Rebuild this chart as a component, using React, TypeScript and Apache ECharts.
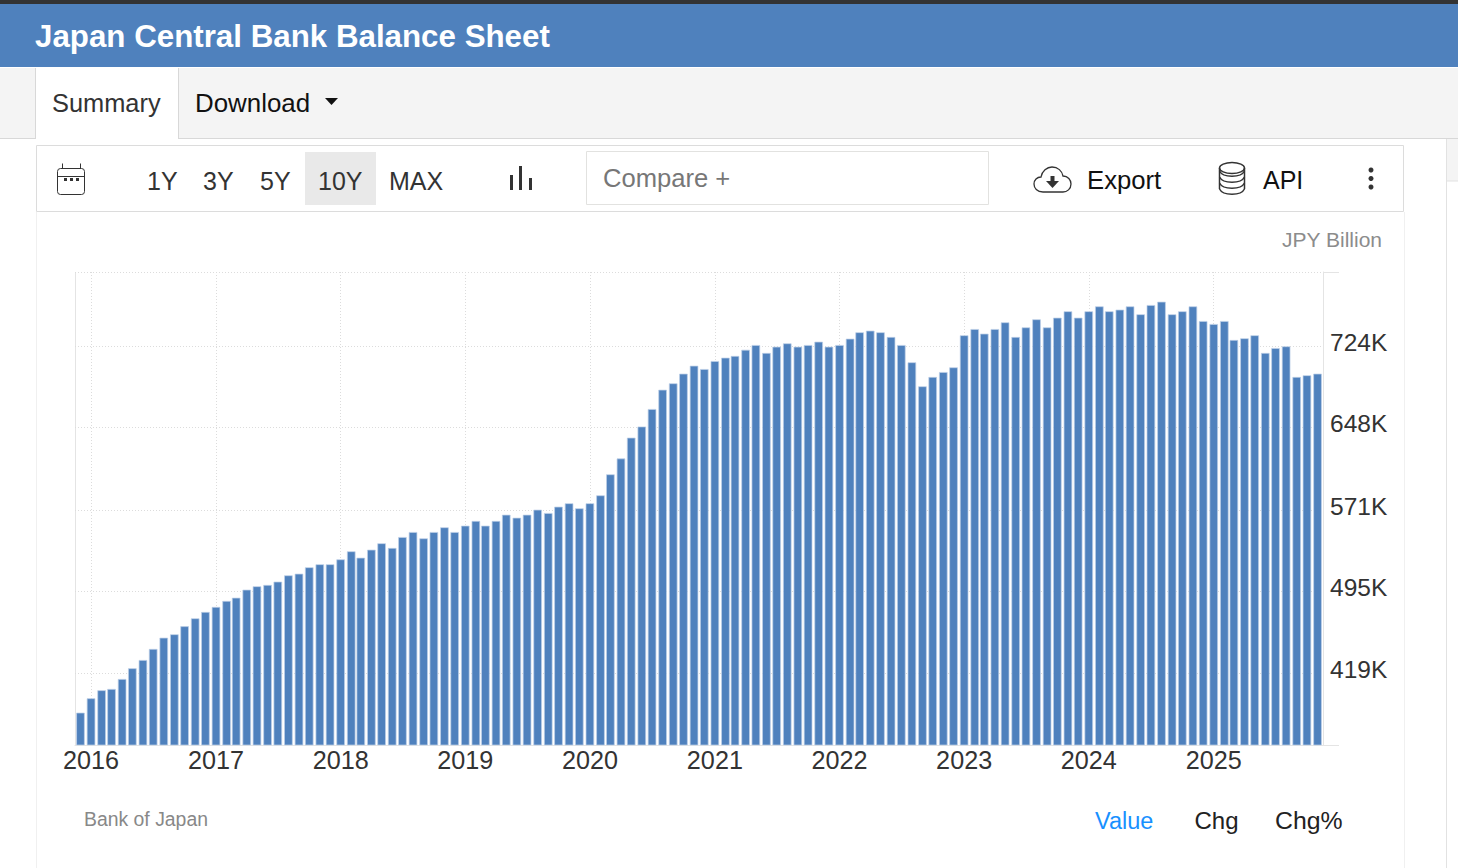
import React, { useEffect, useRef } from "react";
import * as echarts from "echarts";

const months = [
  "2015-12-01",
  "2016-01-01","2016-02-01","2016-03-01","2016-04-01","2016-05-01","2016-06-01","2016-07-01","2016-08-01","2016-09-01","2016-10-01","2016-11-01","2016-12-01",
  "2017-01-01","2017-02-01","2017-03-01","2017-04-01","2017-05-01","2017-06-01","2017-07-01","2017-08-01","2017-09-01","2017-10-01","2017-11-01","2017-12-01",
  "2018-01-01","2018-02-01","2018-03-01","2018-04-01","2018-05-01","2018-06-01","2018-07-01","2018-08-01","2018-09-01","2018-10-01","2018-11-01","2018-12-01",
  "2019-01-01","2019-02-01","2019-03-01","2019-04-01","2019-05-01","2019-06-01","2019-07-01","2019-08-01","2019-09-01","2019-10-01","2019-11-01","2019-12-01",
  "2020-01-01","2020-02-01","2020-03-01","2020-04-01","2020-05-01","2020-06-01","2020-07-01","2020-08-01","2020-09-01","2020-10-01","2020-11-01","2020-12-01",
  "2021-01-01","2021-02-01","2021-03-01","2021-04-01","2021-05-01","2021-06-01","2021-07-01","2021-08-01","2021-09-01","2021-10-01","2021-11-01","2021-12-01",
  "2022-01-01","2022-02-01","2022-03-01","2022-04-01","2022-05-01","2022-06-01","2022-07-01","2022-08-01","2022-09-01","2022-10-01","2022-11-01","2022-12-01",
  "2023-01-01","2023-02-01","2023-03-01","2023-04-01","2023-05-01","2023-06-01","2023-07-01","2023-08-01","2023-09-01","2023-10-01","2023-11-01","2023-12-01",
  "2024-01-01","2024-02-01","2024-03-01","2024-04-01","2024-05-01","2024-06-01","2024-07-01","2024-08-01","2024-09-01","2024-10-01","2024-11-01","2024-12-01",
  "2025-01-01","2025-02-01","2025-03-01","2025-04-01","2025-05-01","2025-06-01","2025-07-01","2025-08-01","2025-09-01","2025-10-01","2025-11-01",
];

const balance = [
  382.0,
  395.4,402.9,404.1,413.4,423.4,431.1,441.4,451.9,455.1,462.6,470.0,475.9,
  480.6,486.2,489.2,496.7,499.9,501.1,504.2,510.1,511.6,517.6,520.4,520.4,
  525.0,532.5,526.5,534.0,540.0,535.6,545.8,550.5,544.6,550.5,554.9,550.5,
  556.4,560.8,556.4,560.8,566.6,563.8,566.6,571.3,568.2,574.1,577.3,572.6,
  577.3,584.7,604.3,619.1,638.5,648.9,665.2,683.2,689.2,698.2,705.6,702.5,
  710.0,713.1,714.7,720.5,724.9,717.5,723.3,726.5,723.3,724.9,728.0,723.3,
  724.9,730.8,736.8,738.3,736.8,732.4,724.9,708.8,686.4,695.1,699.7,704.1,
  734.0,739.8,735.5,739.8,746.1,732.4,741.4,748.9,741.4,750.4,756.4,750.4,
  756.4,761.0,756.4,757.9,761.0,753.6,762.2,765.3,753.6,756.4,761.0,747.3,
  744.5,747.3,729.6,731.2,734.0,717.5,722.1,723.7,695.1,696.7,698.2,
];

const yearTicks = ["2016-01-01","2017-01-01","2018-01-01","2019-01-01","2020-01-01","2021-01-01","2022-01-01","2023-01-01","2024-01-01","2025-01-01"];
const valueTicks = [419, 495, 571, 648, 724];
const periodButtons = ["1Y", "3Y", "5Y", "10Y", "MAX"];
const FONT = '"Liberation Sans", Arial, sans-serif';
const BLUE = "#4f81bd";

const CLOUD =
  "M10 26 C4 26 1 22 1 18 C1 14 4 11 8 11 C9 5 14 1 19 1 C25 1 29 5 30 10 C35 10 38 14 38 18 C38 23 34 26 30 26 Z";
echarts.graphic.registerShape("cloudIcon", echarts.graphic.extendPath(CLOUD as any, {}) as any);

function txt(text: string, x: number, y: number, fontSize: number, fill: string, extra: any = {}) {
  return {
    type: "text",
    silent: true,
    x,
    y,
    style: { text, x: 0, y: 0, fontSize, fill, fontFamily: FONT, textAlign: "left", textVerticalAlign: "middle", verticalAlign: "middle", ...extra },
  };
}
function box(x: number, y: number, width: number, height: number, fill: string, stroke?: string, r = 0, z = 0) {
  return {
    type: "rect",
    silent: true,
    z,
    shape: { x, y, width, height, r },
    style: { fill, stroke: stroke || "none", lineWidth: stroke ? 1 : 0 },
  };
}
function seg(x1: number, y1: number, x2: number, y2: number, stroke: string, lineWidth = 1, dash?: number[]) {
  return {
    type: "line",
    silent: true,
    shape: { x1, y1, x2, y2 },
    style: { stroke, lineWidth, lineDash: dash || "solid" },
  };
}

function chrome(): any[] {
  const periodX = [147, 203, 260, 318, 389];
  const icon = "#333333";
  return [
    box(0, 0, 1458, 4, "#333333"),
    box(0, 4, 1458, 63, BLUE),
    box(0, 68, 1458, 70, "#f4f4f4"),
    seg(0, 138.5, 1458, 138.5, "#d8d8d8"),
    box(36, 68, 142, 71, "#ffffff"),
    seg(35.5, 68, 35.5, 139, "#d8d8d8"),
    seg(178.5, 68, 178.5, 139, "#d8d8d8"),
    txt("Japan Central Bank Balance Sheet", 35, 36, 31.3, "#ffffff", { fontWeight: "bold" }),
    txt("Summary", 52, 103, 25.4, "#333333"),
    txt("Download", 195, 103, 25.9, "#111111"),
    { type: "polygon", silent: true, shape: { points: [[325, 98], [338, 98], [331.5, 105]] }, style: { fill: "#111111" } },

    seg(36.5, 212, 36.5, 868, "#f0f0f0"),
    seg(1404.5, 212, 1404.5, 868, "#f0f0f0"),
    seg(1446.5, 139, 1446.5, 868, "#e2e2e2"),
    box(1447, 139, 11, 42, "#f4f4f4"),
    seg(1447, 181, 1458, 181, "#e2e2e2"),

    box(36.5, 145.5, 1367, 66, "#ffffff", "#dcdcdc"),
    box(305, 152, 71, 53, "#e9e9e9"),
    ...periodButtons.map((p, i) => txt(p, periodX[i], 181, 25, "#333333")),

    box(57.5, 168.5, 27, 26, "none", icon, 3),
    seg(58, 176.5, 84, 176.5, icon),
    seg(62.5, 163.5, 62.5, 168.5, icon),
    seg(80.5, 163.5, 80.5, 168.5, icon),
    box(64, 178, 3, 3, icon),
    box(70, 178, 3, 3, icon),
    box(76, 178, 3, 3, icon),

    box(510, 175, 3, 15, icon),
    box(519, 166, 3, 24, icon),
    box(529, 178, 3, 12, icon),

    box(586.5, 151.5, 402, 53, "#ffffff", "#e2e2e0"),
    txt("Compare +", 603, 178, 25.6, "#777777"),

    { type: "cloudIcon", silent: true, x: 1033, y: 166, style: { fill: "none", stroke: icon, lineWidth: 1.3 } },
    box(1050.5, 176, 4, 6, icon),
    { type: "polygon", silent: true, shape: { points: [[1046, 181], [1059, 181], [1052.5, 188]] }, style: { fill: icon } },
    txt("Export", 1087, 180, 25.7, "#111111"),

    { type: "ellipse", silent: true, shape: { cx: 1232, cy: 168, rx: 12.5, ry: 5.5 }, style: { fill: "none", stroke: icon, lineWidth: 1.5 } },
    seg(1219.5, 168, 1219.5, 189, icon, 1.5),
    seg(1244.5, 168, 1244.5, 189, icon, 1.5),
    { type: "bezierCurve", silent: true, shape: { x1: 1219.5, y1: 171, x2: 1244.5, y2: 171, cpx1: 1223, cpy1: 178, cpx2: 1241, cpy2: 178 }, style: { fill: "none", stroke: icon, lineWidth: 1.5 } },
    { type: "bezierCurve", silent: true, shape: { x1: 1219.5, y1: 177, x2: 1244.5, y2: 177, cpx1: 1223, cpy1: 184, cpx2: 1241, cpy2: 184 }, style: { fill: "none", stroke: icon, lineWidth: 1.5 } },
    { type: "bezierCurve", silent: true, shape: { x1: 1219.5, y1: 183, x2: 1244.5, y2: 183, cpx1: 1223, cpy1: 190, cpx2: 1241, cpy2: 190 }, style: { fill: "none", stroke: icon, lineWidth: 1.5 } },
    { type: "bezierCurve", silent: true, shape: { x1: 1219.5, y1: 189, x2: 1244.5, y2: 189, cpx1: 1223, cpy1: 196, cpx2: 1241, cpy2: 196 }, style: { fill: "none", stroke: icon, lineWidth: 1.5 } },
    txt("API", 1263, 180, 25, "#111111"),

    { type: "circle", silent: true, shape: { cx: 1371, cy: 170, r: 2.5 }, style: { fill: icon } },
    { type: "circle", silent: true, shape: { cx: 1371, cy: 178.5, r: 2.5 }, style: { fill: icon } },
    { type: "circle", silent: true, shape: { cx: 1371, cy: 187, r: 2.5 }, style: { fill: icon } },

    txt("JPY Billion", 1382, 239.5, 21, "#8c8c8c", { textAlign: "right" }),
    txt("Bank of Japan", 84, 819, 19.4, "#888888"),
    txt("Value", 1095, 820.5, 23.5, "#1890ff"),
    txt("Chg", 1194.5, 820.5, 24, "#222222"),
    txt("Chg%", 1275, 820.5, 24.8, "#222222"),

    seg(75.5, 272, 75.5, 745, "#e4e4e4", 1),
    seg(75, 272.5, 1323, 272.5, "#dcdcdc", 1, [1, 2]),
    seg(1323, 272.5, 1339, 272.5, "#e4e4e4", 1),
    seg(1323, 745.5, 1339, 745.5, "#e4e4e4", 1),
  ];
}

const ms = (d: string) => Date.parse(d + "T00:00:00Z");

export default function App() {
  const ref = useRef<HTMLDivElement>(null);
  useEffect(() => {
    if (!ref.current) return;
    const chart = echarts.init(ref.current, undefined, { renderer: "svg" });
    const xTicks = yearTicks.map(ms);
    chart.setOption({
      animation: false,
      backgroundColor: "#ffffff",
      textStyle: { fontFamily: FONT },
      grid: { left: 75, right: 135, top: 272, bottom: 123, containLabel: false },
      xAxis: {
        type: "value",
        min: ms("2015-11-15"),
        max: ms("2025-11-17"),
        axisLine: { show: true, onZero: false, lineStyle: { color: "#e4e4e4", width: 1 } },
        axisTick: { show: false, customValues: xTicks },
        axisLabel: {
          customValues: xTicks,
          formatter: (v: number) => String(new Date(v).getUTCFullYear()),
          fontSize: 25.2,
          color: "#333333",
          fontFamily: FONT,
          margin: 2,
          hideOverlap: false,
        },
        splitLine: { show: true, lineStyle: { color: "#dcdcdc", type: [1, 2], width: 1 } },
      },
      yAxis: {
        type: "value",
        position: "right",
        min: 351.8,
        max: 793,
        axisLine: { show: true, onZero: false, lineStyle: { color: "#e4e4e4", width: 1 } },
        axisTick: { show: false, customValues: valueTicks },
        axisLabel: {
          customValues: valueTicks,
          formatter: (v: number) => `${v}K`,
          fontSize: 24.5,
          color: "#333333",
          fontFamily: FONT,
          margin: 7,
          verticalAlign: "bottom",
          lineHeight: 7,
        },
        splitLine: { show: true, lineStyle: { color: "#dcdcdc", type: [1, 2], width: 1 } },
      },
      series: [
        {
          type: "bar",
          barWidth: 8.6,
          data: months.map((m, i) => [ms(m), balance[i]]),
          itemStyle: { color: BLUE, borderColor: "rgba(190,208,232,0.9)", borderWidth: 0.8 },
          z: 3,
        },
      ],
      graphic: { elements: chrome() },
    });
    return () => chart.dispose();
  }, []);
  return <div ref={ref} style={{ position: "fixed", left: 0, top: 0, width: 1458, height: 868 }} />;
}
